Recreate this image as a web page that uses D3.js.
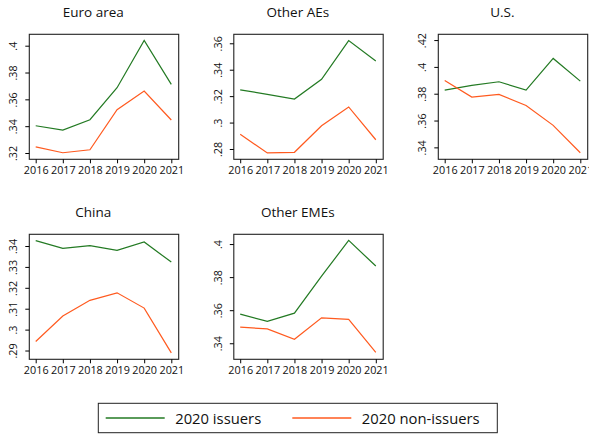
<!DOCTYPE html>
<html><head><meta charset="utf-8">
<script src="https://cdn.jsdelivr.net/npm/d3@7"></script>
<style>body{margin:0;background:#fff}svg{display:block}text{font-family:"Open Sans","Noto Sans",sans-serif;fill:#111}</style>
</head><body><svg id="c" width="589" height="434"></svg>
<script>
const years = [2016, 2017, 2018, 2019, 2020, 2021];
const panelTitles = ["Euro area", "Other AEs", "U.S.", "China", "Other EMEs"];
const issuers = [
  [0.3403, 0.3371, 0.3448, 0.3687, 0.4040, 0.3712],
  [0.3247, 0.3214, 0.3178, 0.3327, 0.3620, 0.3466],
  [0.3827, 0.3862, 0.3889, 0.3827, 0.4063, 0.3894],
  [0.3426, 0.3389, 0.3402, 0.3379, 0.3419, 0.3323],
  [0.3576, 0.3533, 0.3582, 0.3806, 0.4022, 0.3867]
];
const nonIssuers = [
  [0.3245, 0.3202, 0.3224, 0.3523, 0.3662, 0.3446],
  [0.2911, 0.2770, 0.2775, 0.2976, 0.3118, 0.2870],
  [0.3899, 0.3775, 0.3795, 0.3712, 0.3564, 0.3360],
  [0.2943, 0.3065, 0.3140, 0.3176, 0.3103, 0.2889],
  [0.3497, 0.3487, 0.3424, 0.3554, 0.3545, 0.3345]
];
const yTicks = [
  [0.32, 0.34, 0.36, 0.38, 0.40],
  [0.28, 0.30, 0.32, 0.34, 0.36],
  [0.34, 0.36, 0.38, 0.40, 0.42],
  [0.29, 0.30, 0.31, 0.32, 0.33, 0.34],
  [0.34, 0.36, 0.38, 0.40]
];
const yDomains = [
  [0.3153, 0.4085],
  [0.2722, 0.3668],
  [0.3311, 0.4243],
  [0.2858, 0.3456],
  [0.3303, 0.4059]
];
const seriesNames = ["2020 issuers", "2020 non-issuers"];
const colors = ["#237a23", "#ff5a1f"];

const svg = d3.select("#c");
const fmt = v => { let s = d3.format(".2f")(v).replace(/^0/, ""); s = s.replace(/0$/, ""); return s; };

panelTitles.forEach((title, i) => {
  const col = i % 3, row = Math.floor(i / 3);
  const ox = col * 204.5, oy = row * 200;
  const L = 29.3 + ox, R = 178.7 + ox, T = 34.3 + oy, B = 159.3 + oy;
  const g = svg.append("g");
  const x = d3.scaleLinear().domain([2016, 2021]).range([L + 6.4, R - 7.4]);
  const y = d3.scaleLinear().domain(yDomains[i]).range([B, T]);
  g.append("text").attr("x", 93.3 + ox).attr("y", 17 + oy).attr("text-anchor", "middle")
    .attr("font-size", 13.5).text(title);
  g.append("rect").attr("x", L).attr("y", T).attr("width", R - L).attr("height", B - T)
    .attr("fill", "none").attr("stroke", "#222").attr("stroke-width", 1.1);
  const xa = g.append("g").attr("transform", `translate(0,${B})`)
    .call(d3.axisBottom(x).tickValues(years).tickFormat(d3.format("d")).tickSize(4).tickPadding(3));
  xa.select(".domain").remove();
  xa.selectAll("text").attr("font-size", 10.8).attr("font-family", "'Open Sans',sans-serif").attr("fill", "#111");
  const ya = g.append("g").attr("transform", `translate(${L},0)`)
    .call(d3.axisLeft(y).tickValues(yTicks[i]).tickFormat(fmt).tickSize(4).tickPadding(3));
  ya.select(".domain").remove();
  ya.selectAll("text").attr("font-size", 10.8).attr("font-family", "'Open Sans',sans-serif").attr("fill", "#111")
    .attr("text-anchor", "middle").attr("x", 0).attr("dy", 0)
    .attr("transform", `translate(-12,0) rotate(-90)`);
  [issuers[i], nonIssuers[i]].forEach((vals, s) => {
    g.append("path").datum(vals)
      .attr("d", d3.line().x((d, j) => x(years[j])).y(d => y(d)))
      .attr("fill", "none").attr("stroke", colors[s]).attr("stroke-width", 1.2);
  });
});

// legend
const lg = svg.append("g");
lg.append("rect").attr("x", 98.3).attr("y", 403.3).attr("width", 399).attr("height", 29.4)
  .attr("fill", "#fff").attr("stroke", "#222").attr("stroke-width", 1);
const legX = [105.7, 292.3];
seriesNames.forEach((n, s) => {
  lg.append("line").attr("x1", legX[s]).attr("x2", legX[s] + 59).attr("y1", 418).attr("y2", 418)
    .attr("stroke", colors[s]).attr("stroke-width", 1.5);
  lg.append("text").attr("x", legX[s] + 69.5).attr("y", 423.5).attr("font-size", 14.8).text(n);
});
</script></body></html>
